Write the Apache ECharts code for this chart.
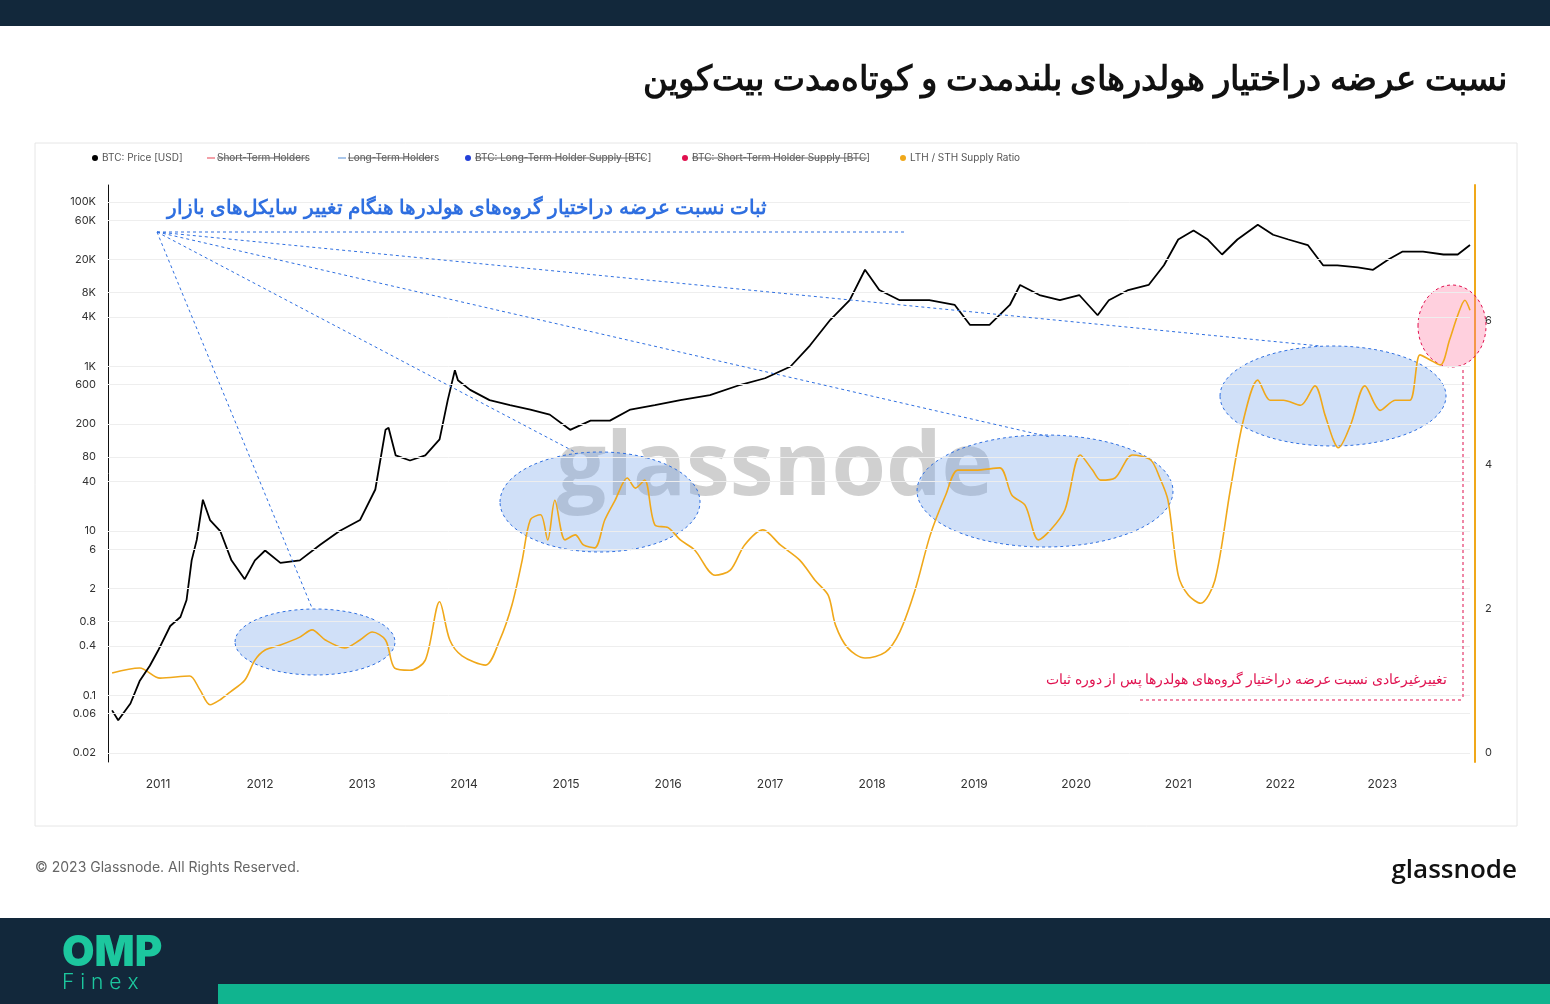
<!DOCTYPE html>
<html><head><meta charset="utf-8">
<script src="https://cdn.jsdelivr.net/npm/echarts@6/dist/echarts.min.js"></script>
<style>html,body{margin:0;padding:0;background:#fff}#c{width:1550px;height:1004px}</style>
</head><body><div id="c"></div>
<script>
// BTC price (USD) [decimal year, price]
const priceYears = [2010.55,2010.61,2010.73,2010.82,2010.92,2011.0,2011.12,2011.22,2011.28,2011.33,2011.38,2011.44,2011.51,2011.61,2011.72,2011.85,2011.95,2012.05,2012.2,2012.39,2012.59,2012.78,2012.98,2013.13,2013.23,2013.26,2013.33,2013.47,2013.62,2013.76,2013.84,2013.91,2013.94,2014.06,2014.25,2014.45,2014.65,2014.84,2015.04,2015.24,2015.43,2015.63,2015.87,2016.12,2016.41,2016.71,2016.95,2017.2,2017.39,2017.59,2017.78,2017.93,2018.07,2018.27,2018.56,2018.81,2018.96,2019.15,2019.35,2019.45,2019.64,2019.84,2020.03,2020.21,2020.32,2020.51,2020.71,2020.86,2021.0,2021.15,2021.29,2021.43,2021.58,2021.78,2021.93,2022.08,2022.27,2022.42,2022.56,2022.76,2022.91,2023.06,2023.2,2023.4,2023.6,2023.74,2023.86];
const priceValues = [0.066,0.05,0.08,0.15,0.23,0.35,0.7,0.9,1.45,4.4,7.8,24,13.6,10,4.4,2.6,4.4,5.8,4.1,4.4,6.8,10,13.6,32,170,180,83,72,83,130,390,900,680,520,390,340,300,260,170,220,220,300,340,390,450,600,720,1000,1800,3700,6400,15000,8500,6400,6400,5600,3200,3200,5600,9800,7400,6400,7400,4200,6400,8500,9800,17000,35000,45000,35000,23000,35000,53000,40000,35000,30000,17000,17000,16000,15000,20000,25000,25000,23000,23000,30000];
// LTH / STH supply ratio
const ratioYears = [2010.55,2010.82,2011.02,2011.31,2011.41,2011.51,2011.61,2011.71,2011.85,2011.95,2012.05,2012.2,2012.39,2012.51,2012.64,2012.83,2012.98,2013.1,2013.23,2013.32,2013.47,2013.62,2013.76,2013.86,2013.98,2014.21,2014.35,2014.47,2014.57,2014.65,2014.75,2014.82,2014.89,2014.99,2015.09,2015.17,2015.28,2015.38,2015.48,2015.6,2015.68,2015.77,2015.87,2016.0,2016.12,2016.26,2016.46,2016.61,2016.75,2016.93,2017.1,2017.29,2017.44,2017.57,2017.64,2017.76,2017.93,2018.13,2018.27,2018.42,2018.57,2018.72,2018.84,2019.01,2019.25,2019.37,2019.5,2019.63,2019.75,2019.89,2020.04,2020.16,2020.24,2020.38,2020.55,2020.73,2020.82,2020.9,2021.0,2021.1,2021.22,2021.36,2021.51,2021.64,2021.78,2021.9,2022.03,2022.2,2022.34,2022.44,2022.52,2022.57,2022.69,2022.83,2022.98,2023.13,2023.27,2023.37,2023.47,2023.57,2023.66,2023.74,2023.81,2023.86];
const ratioValues = [1.11,1.18,1.04,1.07,0.88,0.67,0.74,0.85,1.01,1.29,1.43,1.5,1.61,1.71,1.57,1.46,1.57,1.68,1.57,1.18,1.15,1.29,2.1,1.57,1.35,1.22,1.57,2.06,2.68,3.24,3.31,2.96,3.51,2.96,3.03,2.89,2.85,3.24,3.51,3.82,3.68,3.79,3.17,3.13,2.96,2.82,2.47,2.54,2.89,3.1,2.89,2.68,2.4,2.19,1.78,1.46,1.32,1.4,1.68,2.26,3.03,3.58,3.93,3.93,3.96,3.58,3.44,2.96,3.1,3.38,4.14,3.93,3.79,3.82,4.14,4.07,3.82,3.51,2.47,2.19,2.08,2.4,3.65,4.63,5.18,4.9,4.9,4.83,5.1,4.69,4.35,4.24,4.56,5.1,4.76,4.9,4.9,5.53,5.46,5.39,5.74,6.08,6.29,6.15];
const priceTicks = [100000,60000,20000,8000,4000,1000,600,200,80,40,10,6,2,0.8,0.4,0.1,0.06,0.02];
const priceTickLabels = ['100K','60K','20K','8K','4K','1K','600','200','80','40','10','6','2','0.8','0.4','0.1','0.06','0.02'];
const ratioTicks = [0,2,4,6];
const yearTicks = [2011,2012,2013,2014,2015,2016,2017,2018,2019,2020,2021,2022,2023];

const lg = v => Math.log10(v);
const priceData = priceYears.map((y,i)=>[y, lg(priceValues[i])]);
const ratioData = ratioYears.map((y,i)=>[y, ratioValues[i]]);
const tickLog = priceTicks.map(lg);

const chart = echarts.init(document.getElementById('c'));
const blue = '#2f6fe0';
const dash = (x1,y1,x2,y2,c)=>({type:'line',shape:{x1,y1,x2,y2},style:{stroke:c||blue,lineWidth:1,lineDash:[3,3]},z:20});
const ell = (cx,cy,rx,ry,fill,stroke)=>({type:'ellipse',shape:{cx,cy,rx,ry},style:{fill,stroke,lineWidth:1,lineDash:[3,3]},z:1});
const legendItems = [
 {x:92,t:'BTC: Price [USD]',c:'#000',s:false,dot:true},
 {x:207,t:'Short-Term Holders',c:'#f3a0a8',s:true,dot:false},
 {x:338,t:'Long-Term Holders',c:'#a9c6ea',s:true,dot:false},
 {x:465,t:'BTC: Long-Term Holder Supply [BTC]',c:'#2340d8',s:true,dot:true},
 {x:682,t:'BTC: Short-Term Holder Supply [BTC]',c:'#e0104e',s:true,dot:true},
 {x:900,t:'LTH / STH Supply Ratio',c:'#f0a81a',s:false,dot:true}
];
const legendG = [];
legendItems.forEach(it=>{
  if(it.dot) legendG.push({type:'circle',shape:{cx:it.x+3,cy:158,r:3},style:{fill:it.c}});
  else legendG.push({type:'line',shape:{x1:it.x,y1:158,x2:it.x+8,y2:158},style:{stroke:it.c,lineWidth:2}});
  const tx = it.x+10;
  legendG.push({type:'text',x:tx,y:158,style:{text:it.t,font:'10px Inter',fill:'#555',verticalAlign:'middle'}});
  if(it.s){ const w = it.t.length*5.0; legendG.push({type:'line',shape:{x1:tx,y1:158,x2:tx+w,y2:158},style:{stroke:'#666',lineWidth:1}}); }
});

chart.setOption({
  animation:false,
  grid:{left:108,right:80,top:185,bottom:242},
  xAxis:{type:'value',min:2010.51,max:2023.86,
    axisLine:{show:false},axisTick:{show:false},splitLine:{show:false},
    axisLabel:{customValues:yearTicks,formatter:v=>String(Math.round(v)),color:'#333',fontSize:12,fontFamily:'Inter',margin:16}},
  yAxis:[
    {type:'value',min:-1.808,max:5.2067,position:'left',
     axisLine:{show:true,lineStyle:{color:'#111'}},axisTick:{show:false},
     splitLine:{show:false},
     axisLabel:{customValues:tickLog,color:'#333',fontSize:11,fontFamily:'Inter',margin:12,
       formatter:v=>{let b=0,d=1e9;tickLog.forEach((t,i)=>{const e=Math.abs(t-v);if(e<d){d=e;b=i;}});return priceTickLabels[b];}}},
    {type:'value',min:-0.125,max:7.89,position:'right',offset:5,
     axisLine:{show:true,lineStyle:{color:'#f0a81a',width:2}},axisTick:{show:false},splitLine:{show:false},
     axisLabel:{customValues:ratioTicks,color:'#333',fontSize:11,fontFamily:'Inter',margin:10}}
  ],
  series:[
    {type:'line',name:'LTH / STH Supply Ratio',yAxisIndex:1,data:ratioData,showSymbol:false,smooth:0.3,
     lineStyle:{color:'#f0a81a',width:1.6},z:3},
    {type:'line',name:'BTC: Price [USD]',yAxisIndex:0,data:priceData,showSymbol:false,
     lineStyle:{color:'#000',width:1.8},z:4,
     markLine:{silent:true,symbol:'none',label:{show:false},lineStyle:{color:'#eeeeee',type:'solid',width:1},
       data:tickLog.map(v=>({yAxis:v}))}}
  ],
  graphic:[
    {type:'rect',shape:{x:0,y:0,width:1550,height:26},style:{fill:'#12283b'}},
    {type:'text',x:1507,y:80,style:{text:'نسبت عرضه دراختیار هولدرهای بلندمدت و کوتاه‌مدت بیت‌کوین',font:'bold 34px "Noto Sans"',fill:'#111',align:'right',verticalAlign:'middle'}},
    {type:'rect',shape:{x:35,y:143,width:1482,height:683},style:{fill:'none',stroke:'#e6e6e6',lineWidth:1},z:-1},
    ...legendG,
    {type:'text',x:775,y:470,style:{text:'glassnode',font:'bold 88px "Open Sans"',fill:'rgba(150,150,150,0.45)',align:'center',verticalAlign:'middle'},z:1},
    ell(315,642,80,33,'rgba(120,165,235,0.35)',blue),
    ell(600,502,100,50,'rgba(120,165,235,0.35)',blue),
    ell(1045,491,128,56,'rgba(120,165,235,0.35)',blue),
    ell(1333,396,113,50,'rgba(120,165,235,0.35)',blue),
    ell(1452,326,34,41,'rgba(255,120,160,0.35)','#e0104e'),
    {type:'text',x:767,y:208,style:{text:'ثبات نسبت عرضه دراختیار گروه‌های هولدرها هنگام تغییر سایکل‌های بازار',font:'bold 20px "Noto Sans"',fill:blue,align:'right',verticalAlign:'middle'},z:20},
    dash(157,232,905,232), dash(157,232,312,608), dash(157,232,575,452), dash(157,232,1050,437), dash(157,232,1320,346),
    dash(1463,370,1463,700,'#e0104e'), dash(1140,700,1463,700,'#e0104e'),
    {type:'text',x:1447,y:680,style:{text:'تغییرغیرعادی نسبت عرضه دراختیار گروه‌های هولدرها پس از دوره ثبات',font:'13.5px "Noto Sans"',fill:'#e0104e',align:'right',verticalAlign:'middle'},z:20},
    {type:'text',x:35,y:868,style:{text:'© 2023 Glassnode. All Rights Reserved.',font:'14px Inter',fill:'#666',verticalAlign:'middle'}},
    {type:'text',x:1517,y:871,style:{text:'glassnode',font:'600 26px "Open Sans"',fill:'#111',align:'right',verticalAlign:'middle'}},
    {type:'rect',shape:{x:0,y:918,width:1550,height:86},style:{fill:'#12283b'}},
    {type:'rect',shape:{x:218,y:984,width:1332,height:20},style:{fill:'#10b48f'}},
    {type:'text',x:62,y:953,style:{text:'OMP',font:'900 42px Inter',fill:'#1cc79e',verticalAlign:'middle'}},
    {type:'text',x:62,y:983,style:{text:'F i n e x',font:'300 21px Inter',fill:'#1cc79e',verticalAlign:'middle'}}
  ]
});
</script></body></html>
